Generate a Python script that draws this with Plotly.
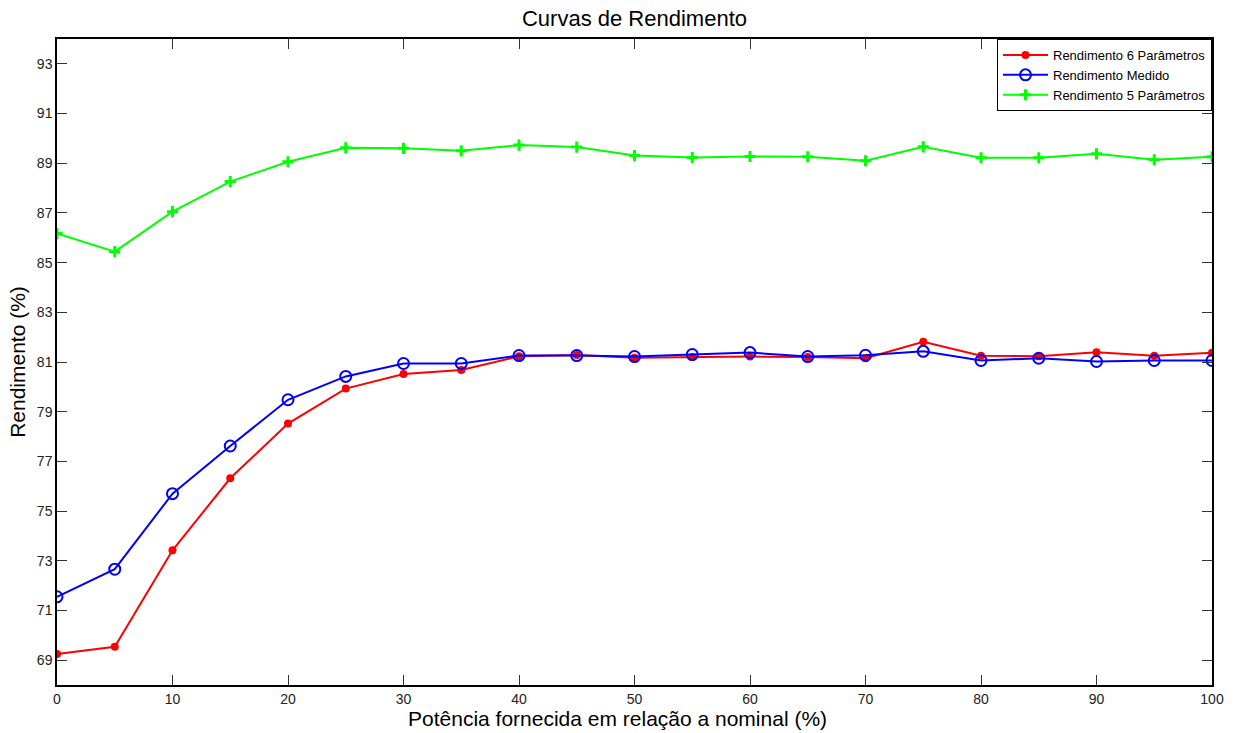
import plotly.graph_objects as go

# Potência fornecida (% da nominal)
potencia = [0, 5, 10, 15, 20, 25, 30, 35, 40, 45, 50, 55, 60, 65, 70, 75, 80, 85, 90, 95, 100]

# Rendimento estimado pelo modelo de 6 parâmetros (%)
rend_6p = [69.25, 69.54, 73.42, 76.32, 78.52, 79.93, 80.52, 80.68, 81.23, 81.28, 81.17,
           81.20, 81.22, 81.20, 81.15, 81.81, 81.25, 81.23, 81.39, 81.25, 81.37]

# Rendimento medido (%)
rend_medido = [71.55, 72.66, 75.70, 77.62, 79.48, 80.42, 80.94, 80.94, 81.26, 81.26, 81.22,
               81.30, 81.38, 81.22, 81.27, 81.43, 81.06, 81.15, 81.02, 81.06, 81.06]

# Rendimento estimado pelo modelo de 5 parâmetros (%)
rend_5p = [86.17, 85.44, 87.05, 88.26, 89.06, 89.62, 89.60, 89.50, 89.73, 89.65, 89.31,
           89.23, 89.27, 89.26, 89.10, 89.66, 89.22, 89.22, 89.38, 89.14, 89.26]

x_ticks = list(range(0, 101, 10))
y_ticks = list(range(69, 94, 2))

FONT = "Liberation Sans, Arial, sans-serif"

fig = go.Figure()

fig.add_trace(go.Scatter(
    x=potencia, y=rend_6p, mode="lines+markers",
    name="Rendimento 6 Parâmetros",
    line=dict(color="#ff0000", width=2),
    marker=dict(symbol="circle", size=8, color="#ff0000"),
))
fig.add_trace(go.Scatter(
    x=potencia, y=rend_medido, mode="lines+markers",
    name="Rendimento Medido",
    line=dict(color="#0000ff", width=2),
    marker=dict(symbol="circle-open", size=11, color="#0000ff", line=dict(width=2, color="#0000ff")),
))
fig.add_trace(go.Scatter(
    x=potencia, y=rend_5p, mode="lines+markers",
    name="Rendimento 5 Parâmetros",
    line=dict(color="#00ff00", width=2),
    marker=dict(symbol="cross-thin-open", size=8, color="#00ff00", line=dict(width=3, color="#00ff00")),
))

axis_common = dict(
    showgrid=False, zeroline=False, automargin=False,
    showline=True, linecolor="black", linewidth=1.5, mirror="ticks",
    ticks="inside", ticklen=10, tickcolor="#333333", tickwidth=1,
    tickfont=dict(family=FONT, size=14, color="#222222"),
)

fig.update_layout(
    width=1236, height=733,
    paper_bgcolor="white", plot_bgcolor="white",
    margin=dict(l=57, r=24, t=39, b=48),
    title=dict(text="Curvas de Rendimento", x=0.5, xref="paper", xanchor="center",
               y=0.975, yanchor="middle",
               font=dict(family=FONT, size=22, color="black")),
    xaxis=dict(range=[0, 100], tickvals=x_ticks, **axis_common),
    yaxis=dict(range=[68, 94], tickvals=y_ticks,
               title=dict(text="Rendimento (%)", standoff=6,
                          font=dict(family=FONT, size=21, color="black")),
               **axis_common),
    legend=dict(x=1, y=1, xanchor="right", yanchor="top",
                bgcolor="white", bordercolor="black", borderwidth=1,
                font=dict(family=FONT, size=13, color="black"),
                itemwidth=45, tracegroupgap=0),
    showlegend=True,
)

# Rótulo do eixo horizontal
fig.add_annotation(
    text="Potência fornecida em relação a nominal (%)",
    xref="paper", yref="paper", x=0.5, y=0, xanchor="center", yanchor="middle",
    xshift=-17, yshift=-33, showarrow=False,
    font=dict(family=FONT, size=21, color="black"),
)

fig.write_html("out.html")
